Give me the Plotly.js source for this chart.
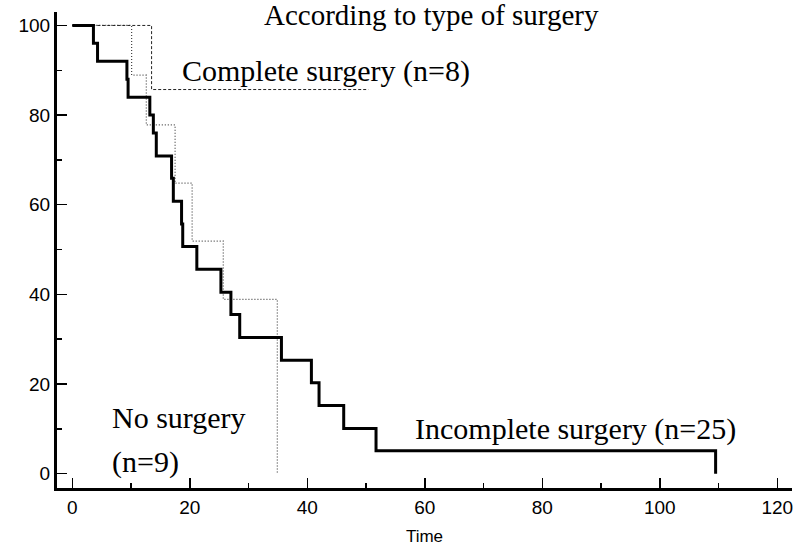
<!DOCTYPE html>
<html>
<head>
<meta charset="utf-8">
<script src="https://cdn.plot.ly/plotly-3.0.1.min.js"></script>
<style>
  html, body { margin: 0; padding: 0; background: #fff; }
  #chart { width: 796px; height: 547px; }
</style>
</head>
<body>
<div id="chart"></div>
<script>
// Kaplan-Meier survival estimates by type of surgery (time vs. % surviving)
const incompleteTime = [0, 3.6, 4.3, 9.3, 9.5, 13.2, 13.8, 14.3, 16.9, 17.2, 18.6, 18.8, 21.2, 25.3, 27.0, 28.5, 35.6, 40.7, 42.0, 46.2, 51.7, 109.5];
const incompleteSurv = [100, 96, 92, 88, 84, 80, 76, 70.9, 65.9, 60.8, 55.7, 50.7, 45.6, 40.5, 35.5, 30.4, 25.3, 20.3, 15.2, 10.1, 5.1, 0];

const noSurgeryTime = [0, 10.1, 12.6, 17.5, 20.4, 25.7, 34.9];
const noSurgerySurv = [100, 88.9, 77.8, 64.8, 51.9, 38.9, 0];

const completeTime = [0, 13.5, 50.4];
const completeSurv = [100, 85.7, 85.7];

const xTickVals = [0, 20, 40, 60, 80, 100, 120];
const yTickVals = [0, 20, 40, 60, 80, 100];

const serif = "Liberation Serif";
const sans = "Liberation Sans";

const traces = [
  {
    x: noSurgeryTime, y: noSurgerySurv, type: "scatter", mode: "lines",
    line: { shape: "hv", color: "#444", width: 1.2, dash: "1px,2px" },
    name: "No surgery"
  },
  {
    x: completeTime, y: completeSurv, type: "scatter", mode: "lines",
    line: { shape: "hv", color: "#222", width: 1, dash: "3px,2px" },
    name: "Complete surgery"
  },
  {
    x: incompleteTime, y: incompleteSurv, type: "scatter", mode: "lines",
    line: { shape: "hv", color: "#000", width: 3 },
    name: "Incomplete surgery"
  }
];

const labelFont = { family: serif, size: 30, color: "#000" };

const layout = {
  width: 796, height: 547,
  margin: { l: 57, r: 4, t: 12, b: 59 },
  paper_bgcolor: "#fff", plot_bgcolor: "#fff",
  showlegend: false,
  font: { family: sans, size: 19, color: "#000" },
  xaxis: {
    range: [-2.6, 122.5],
    tickvals: xTickVals,
    ticks: "inside", ticklen: 10, tickwidth: 1.5, tickcolor: "#000",
    minor: { ticks: "inside", ticklen: 5, tickwidth: 1.5, tickcolor: "#000", dtick: 10, tick0: 0, showgrid: false },
    showline: true, linewidth: 3, linecolor: "#000",
    showgrid: false, zeroline: false,
    tickfont: { family: sans, size: 19, color: "#000" },
    title: { text: "Time", font: { family: sans, size: 17, color: "#000" }, standoff: 14 }
  },
  yaxis: {
    range: [-3.2, 103],
    tickvals: yTickVals,
    ticks: "inside", ticklen: 10, tickwidth: 1.5, tickcolor: "#000",
    minor: { ticks: "inside", ticklen: 5, tickwidth: 1.5, tickcolor: "#000", dtick: 10, tick0: 0, showgrid: false },
    showline: true, linewidth: 3, linecolor: "#000",
    showgrid: false, zeroline: false,
    tickfont: { family: sans, size: 19, color: "#000" }
  },
  annotations: [
    { text: "According to type of surgery", x: 32.5, y: 1, xref: "x", yref: "paper",
      xanchor: "left", yanchor: "top", yshift: 14, borderpad: 0, showarrow: false,
      font: { family: serif, size: 29, color: "#000" } },
    { text: "Complete surgery (n=8)", x: 18.4, y: 89.8, xref: "x", yref: "y",
      xanchor: "left", yanchor: "middle", showarrow: false, font: labelFont },
    { text: "No surgery", x: 6.4, y: 12.6, xref: "x", yref: "y",
      xanchor: "left", yanchor: "middle", showarrow: false, font: labelFont },
    { text: "(n=9)", x: 6.4, y: 2.6, xref: "x", yref: "y",
      xanchor: "left", yanchor: "middle", showarrow: false, font: labelFont },
    { text: "Incomplete surgery (n=25)", x: 58.0, y: 10.0, xref: "x", yref: "y",
      xanchor: "left", yanchor: "middle", showarrow: false, font: labelFont }
  ]
};

Plotly.newPlot("chart", traces, layout, { staticPlot: true, displayModeBar: false });
</script>
</body>
</html>
